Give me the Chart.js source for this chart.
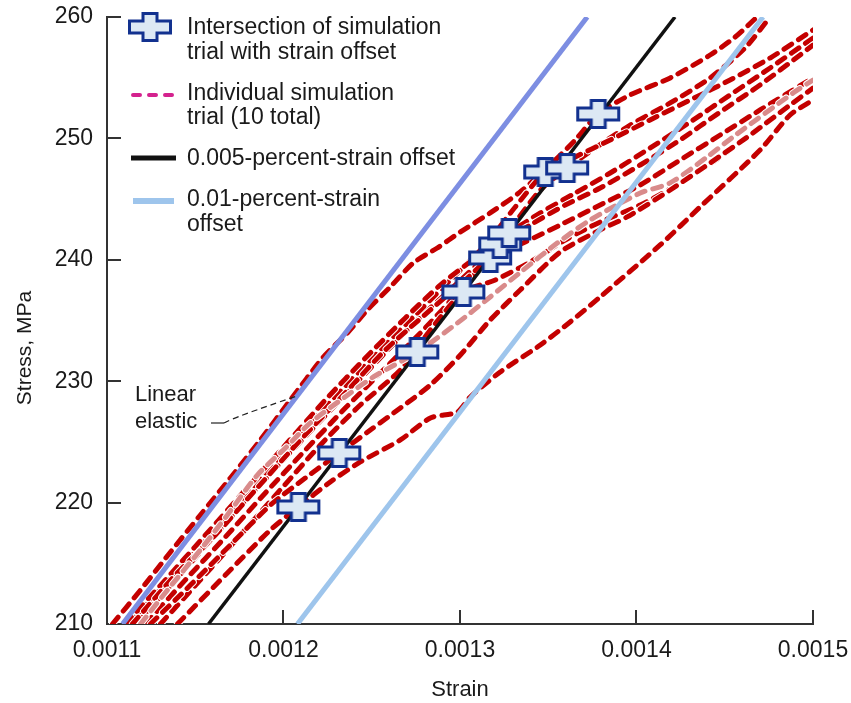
<!DOCTYPE html>
<html>
<head>
<meta charset="utf-8">
<script src="https://cdn.jsdelivr.net/npm/chart.js@4.4.0/dist/chart.umd.min.js"></script>
<style>
  html, body { margin: 0; padding: 0; background: #fff; }
  #wrap { width: 851px; height: 703px; }
</style>
</head>
<body>
<div id="wrap"><canvas id="chart" width="851" height="703"></canvas></div>
<script>
const strainTicks = [0.0011, 0.0012, 0.0013, 0.0014, 0.0015];
const stressTicks = [210, 220, 230, 240, 250, 260];

// straight reference lines, [strain, stress]
const elasticLine = [[0.0011088, 210], [0.0013721, 260]];
const offset005 = [[0.0011575, 210], [0.0014218, 260]];
const offset01 = [[0.0012079, 210], [0.0014717, 260]];

// where each trial meets the 0.005 % offset line
const crossPoints = [
  [0.0012084, 219.64], [0.0012316, 224.09], [0.0012758, 232.41], [0.0013019, 237.35],
  [0.0013171, 240.15], [0.0013228, 241.30], [0.0013279, 242.21], [0.0013483, 247.23],
  [0.0013607, 247.56], [0.0013783, 252.01]
];

// individual simulation trials, [strain, stress]
const trial1 = [[0.0011399,210],[0.0011682,214.20],[0.0011926,217.75],[0.0012084,219.64],[0.0012265,221.70],[0.0012435,223.35],[0.0012662,225.16],[0.0012832,226.97],[0.0012985,227.46],[0.0013058,228.70],[0.0013228,230.76],[0.0013455,232.98],[0.0013624,234.88],[0.0013794,236.94],[0.0014134,241.22],[0.0014360,244.35],[0.0014700,249.04],[0.0014870,251.93],[0.0015,253.16]];
const trial2 = [[0.0011246,210],[0.0011473,213.21],[0.0011699,216.51],[0.0011926,219.80],[0.0012124,222.03],[0.0012316,224.09],[0.0012492,225.98],[0.0012662,227.79],[0.0012832,229.69],[0.0013002,232.16],[0.0013171,235.04],[0.0013341,237.51],[0.0013568,240.64],[0.0013794,242.46],[0.0013947,243.53],[0.0014191,245.75],[0.0014417,247.97],[0.0014644,250.28],[0.0014870,252.75],[0.0015,254.15]];
const trial3 = [[0.0011190,210],[0.0011343,212.80],[0.0011529,216.10],[0.0011682,218.98],[0.0011852,222.27],[0.0012011,224.50],[0.0012152,226.56],[0.0012379,229.03],[0.0012509,230.35],[0.0012758,232.41],[0.0012985,234.79],[0.0013171,236.94],[0.0013358,239.16],[0.0013551,241.38],[0.0013738,243.28],[0.0014021,245.50],[0.0014191,246.33],[0.0014400,248.47],[0.0014547,250.12],[0.0014887,253.74],[0.0015,254.81]];
const trial4 = [[0.0011303,210],[0.0011529,213.63],[0.0011756,217.33],[0.0011982,221.04],[0.0012209,224.75],[0.0012435,228.04],[0.0012662,230.92],[0.0012832,234.22],[0.0013019,237.35],[0.0013200,238.34],[0.0013398,239.82],[0.0013596,241.63],[0.0013794,243.11],[0.0014021,244.51],[0.0014247,246.33],[0.0014474,248.47],[0.0014700,250.94],[0.0015,254.15]];
const trial5 = [[0.0011144,210],[0.0011388,214.04],[0.0011614,217.33],[0.0011841,221.04],[0.0012096,225.16],[0.0012350,229.03],[0.0012577,232.57],[0.0012832,235.87],[0.0013030,238.34],[0.0013171,240.15],[0.0013370,241.47],[0.0013568,242.87],[0.0013794,244.51],[0.0014021,246.16],[0.0014247,248.22],[0.0014474,250.28],[0.0014700,252.34],[0.0015,254.98]];
const trial6 = [[0.0011218,210],[0.0011444,213.63],[0.0011671,217.17],[0.0011897,220.79],[0.0012124,224.33],[0.0012350,227.79],[0.0012577,231.09],[0.0012803,234.38],[0.0013002,237.51],[0.0013115,239.33],[0.0013228,241.30],[0.0013398,242.87],[0.0013596,244.51],[0.0013794,245.91],[0.0014021,247.81],[0.0014247,249.87],[0.0014474,252.17],[0.0014700,254.40],[0.0014927,256.87],[0.0015,257.69]];
const trial7 = [[0.0011105,210],[0.0011331,213.63],[0.0011558,217.33],[0.0011784,221.04],[0.0012011,224.75],[0.0012237,228.45],[0.0012464,231.91],[0.0012690,235.21],[0.0012888,237.92],[0.0013087,240.15],[0.0013279,242.21],[0.0013455,243.86],[0.0013653,245.50],[0.0013851,247.15],[0.0014077,249.21],[0.0014304,251.35],[0.0014530,253.58],[0.0014757,255.80],[0.0015,258.27]];
const trial8 = [[0.0011122,210],[0.0011348,213.63],[0.0011575,217.17],[0.0011812,221.04],[0.0012039,224.75],[0.0012265,228.29],[0.0012503,231.91],[0.0012730,235.21],[0.0012945,238.34],[0.0013143,241.22],[0.0013313,244.35],[0.0013483,247.23],[0.0013653,248.47],[0.0013851,249.87],[0.0014077,251.52],[0.0014304,253.16],[0.0014530,254.81],[0.0014757,256.62],[0.0015,258.93]];
const trial9 = [[0.0011161,210],[0.0011388,213.63],[0.0011614,217.33],[0.0011841,221.04],[0.0012067,224.58],[0.0012294,228.04],[0.0012520,231.50],[0.0012747,234.88],[0.0012973,237.92],[0.0013171,240.64],[0.0013313,243.11],[0.0013455,245.75],[0.0013607,247.56],[0.0013766,249.21],[0.0013964,251.10],[0.0014191,252.92],[0.0014417,254.98],[0.0014615,257.45],[0.0014757,260]];
const trial10 = [[0.0011031,210],[0.0011190,212.80],[0.0011360,215.93],[0.0011529,218.98],[0.0011699,222.03],[0.0011869,225.16],[0.0012039,228.45],[0.0012226,231.99],[0.0012362,233.97],[0.0012475,235.87],[0.0012605,237.76],[0.0012735,239.74],[0.0012871,240.97],[0.0013002,242.29],[0.0013171,243.86],[0.0013341,245.59],[0.0013511,247.81],[0.0013653,249.87],[0.0013783,252.01],[0.0013964,253.58],[0.0014191,254.98],[0.0014417,256.87],[0.0014559,258.35],[0.0014683,260]];

const trials = [trial1, trial2, trial3, trial4, trial5, trial6, trial7, trial8, trial9, trial10];
const fadedTrial = 2; // trial3 is drawn pale in the original

const FONT = '"Liberation Sans", Arial, Helvetica, sans-serif';
const toXY = arr => arr.map(p => ({ x: p[0], y: p[1] }));

// the wide plus marker
function makeCross() {
  const c = document.createElement('canvas');
  c.width = 46; c.height = 30;
  const g = c.getContext('2d');
  const cx = 23, cy = 15, hw = 20.5, hh = 6, vw = 7, vh = 13.5;
  g.beginPath();
  g.moveTo(cx - vw, cy - vh); g.lineTo(cx + vw, cy - vh); g.lineTo(cx + vw, cy - hh);
  g.lineTo(cx + hw, cy - hh); g.lineTo(cx + hw, cy + hh); g.lineTo(cx + vw, cy + hh);
  g.lineTo(cx + vw, cy + vh); g.lineTo(cx - vw, cy + vh); g.lineTo(cx - vw, cy + hh);
  g.lineTo(cx - hw, cy + hh); g.lineTo(cx - hw, cy - hh); g.lineTo(cx - vw, cy - hh);
  g.closePath();
  g.fillStyle = '#dce8f4';
  g.fill();
  g.lineWidth = 3;
  g.strokeStyle = '#12318f';
  g.stroke();
  return c;
}
const crossImg = makeCross();

const datasets = [];
datasets.push({
  data: toXY(crossPoints), showLine: false, pointStyle: crossImg, order: 0, clip: false
});
datasets.push({
  data: toXY(offset005), borderColor: '#111', borderWidth: 3.5, pointRadius: 0, showLine: true, order: 1
});
datasets.push({
  data: toXY(elasticLine), borderColor: '#7d8ee2', borderWidth: 5, pointRadius: 0, showLine: true, order: 2
});
datasets.push({
  data: toXY(offset01), borderColor: '#9ec5ec', borderWidth: 5, pointRadius: 0, showLine: true, order: 2
});
trials.forEach((t, i) => {
  const faded = i === fadedTrial;
  datasets.push({
    data: toXY(t), showLine: true, pointRadius: 0, tension: 0.25,
    borderColor: faded ? '#d98b8b' : '#c40000', borderWidth: 5,
    borderDash: [9, 8], borderCapStyle: 'round', order: 3
  });
  datasets.push({
    data: toXY(t), showLine: true, pointRadius: 0, tension: 0.25,
    borderColor: '#ffffff', borderWidth: 7,
    borderDash: [9, 8], borderCapStyle: 'round', order: 3
  });
});

const noPad = s => { s.paddingTop = 0; s.paddingBottom = 0; s.paddingLeft = 0; s.paddingRight = 0; };

const extras = {
  id: 'extras',
  afterDraw(chart) {
    const ctx = chart.ctx;
    const xs = chart.scales.x, ys = chart.scales.y;
    const a = chart.chartArea;
    ctx.save();
    // inward tick marks
    ctx.strokeStyle = '#333';
    ctx.lineWidth = 2;
    ctx.beginPath();
    stressTicks.forEach(v => {
      if (v === 210) return;
      const py = Math.round(ys.getPixelForValue(v));
      ctx.moveTo(a.left, py); ctx.lineTo(a.left + 14, py);
    });
    strainTicks.forEach(v => {
      if (v === 0.0011) return;
      const px = Math.round(xs.getPixelForValue(v));
      ctx.moveTo(px, a.bottom); ctx.lineTo(px, a.bottom - 14);
    });
    ctx.stroke();

    // y title
    ctx.fillStyle = '#1a1a1a';
    ctx.font = '21px ' + FONT;
    ctx.textAlign = 'center';
    ctx.textBaseline = 'middle';
    ctx.save();
    ctx.translate(25, 348);
    ctx.rotate(-Math.PI / 2);
    ctx.fillText('Stress, MPa', 0, 0);
    ctx.restore();

    // "Linear elastic" note
    ctx.textAlign = 'left';
    ctx.font = '22px ' + FONT;
    ctx.fillText('Linear', 135, 395);
    ctx.fillText('elastic', 135, 422);
    ctx.lineWidth = 1.2;
    ctx.strokeStyle = '#222';
    ctx.beginPath();
    ctx.moveTo(211, 423); ctx.lineTo(224, 423);
    ctx.stroke();
    ctx.setLineDash([6, 4]);
    ctx.beginPath();
    ctx.moveTo(224, 423); ctx.quadraticCurveTo(232, 418, 297, 396);
    ctx.stroke();
    ctx.setLineDash([]);

    // legend
    ctx.font = '23px ' + FONT;
    ctx.drawImage(crossImg, 150 - 23, 27 - 15);
    ctx.fillText('Intersection of simulation', 187, 28);
    ctx.fillText('trial with strain offset', 187, 53);

    ctx.strokeStyle = '#d4228e';
    ctx.lineWidth = 4;
    ctx.lineCap = 'round';
    ctx.setLineDash([7, 9]);
    ctx.beginPath(); ctx.moveTo(133, 95); ctx.lineTo(176, 95); ctx.stroke();
    ctx.setLineDash([]);
    ctx.lineCap = 'butt';
    ctx.fillText('Individual simulation', 187, 94);
    ctx.fillText('trial (10 total)', 187, 118);

    ctx.strokeStyle = '#111';
    ctx.lineWidth = 5;
    ctx.beginPath(); ctx.moveTo(131, 158); ctx.lineTo(176, 158); ctx.stroke();
    ctx.fillText('0.005-percent-strain offset', 187, 159);

    ctx.strokeStyle = '#9ec5ec';
    ctx.lineWidth = 6;
    ctx.beginPath(); ctx.moveTo(133, 201); ctx.lineTo(174, 201); ctx.stroke();
    ctx.fillText('0.01-percent-strain', 187, 200);
    ctx.fillText('offset', 187, 225);
    ctx.restore();
  }
};

new Chart(document.getElementById('chart'), {
  type: 'scatter',
  data: { datasets: datasets },
  options: {
    responsive: false,
    animation: false,
    events: [],
    layout: { padding: { left: 0, top: 17, right: 38, bottom: 0 } },
    plugins: { legend: { display: false }, tooltip: { enabled: false } },
    scales: {
      x: {
        type: 'linear', min: 0.0011, max: 0.0015,
        afterFit: s => { s.height = 79; noPad(s); },
        afterBuildTicks: s => { s.ticks = strainTicks.map(v => ({ value: v })); },
        grid: { display: false, drawTicks: false },
        border: { display: true, color: '#333', width: 2 },
        ticks: {
          padding: 13, maxRotation: 0, autoSkip: false, color: '#1a1a1a',
          font: { size: 23, family: FONT },
          callback: v => Number(v).toFixed(4)
        },
        title: { display: true, text: 'Strain', color: '#1a1a1a', font: { size: 22, family: FONT }, padding: { top: 0, bottom: 0 } }
      },
      y: {
        type: 'linear', min: 210, max: 260,
        afterFit: s => { s.width = 107; noPad(s); },
        afterBuildTicks: s => { s.ticks = stressTicks.map(v => ({ value: v })); },
        grid: { display: false, drawTicks: false },
        border: { display: true, color: '#333', width: 2 },
        ticks: { padding: 14, color: '#1a1a1a', font: { size: 23, family: FONT } }
      }
    }
  },
  plugins: [extras]
});
</script>
</body>
</html>
